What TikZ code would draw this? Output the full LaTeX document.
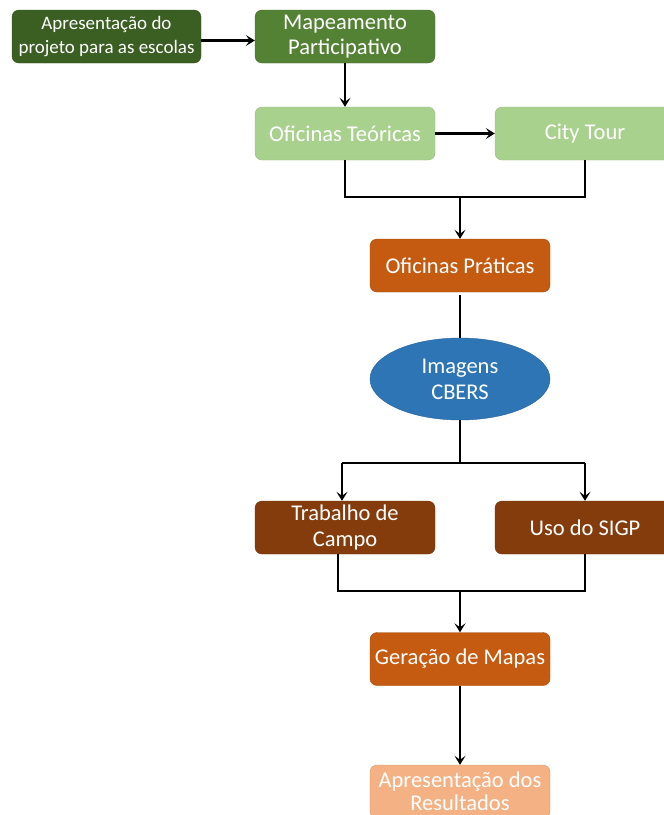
\documentclass[tikz,border=0pt]{standalone}
\usepackage{fontspec}
\setmainfont{Carlito}
\usetikzlibrary{arrows.meta,shapes.geometric}
\definecolor{cA}{HTML}{3B5E22}
\definecolor{cB}{HTML}{548235}
\definecolor{cC}{HTML}{A9D18E}
\definecolor{cD}{HTML}{C55A11}
\definecolor{cE}{HTML}{2E75B6}
\definecolor{cF}{HTML}{843C0C}
\definecolor{cG}{HTML}{F4B183}
\tikzset{
  box/.style={rectangle, rounded corners=7pt, minimum width=180pt, minimum height=53pt,
    inner sep=1pt, align=center, text=white, font=\fontsize{22.5}{25.5}\selectfont, line width=0.4pt},
  conn/.style={line width=2.5pt, black},
  arr/.style={conn, -{Stealth[length=9pt,width=11pt,inset=4pt]}},
}
\begin{document}
\begin{tikzpicture}[x=1pt,y=-1pt]
\useasboundingbox[fill=white] (0,0) rectangle (664,815);
\node[box, fill=cA, draw=cA!85!black, minimum width=189pt, font=\fontsize{19}{24}\selectfont] (b1) at (106.5,36.5) {Apresentação do\\projeto para as escolas};
\node[box, fill=cB, draw=cB!85!black] (b2) at (345,36.5) {Mapeamento\\Participativo};
\node[box, fill=cC, draw=cC!90!black] (b3) at (345,133.5) {Oficinas Teóricas};
\node[box, fill=cC, draw=cC!90!black] (b4) at (585,133.5) {City Tour};
\node[box, fill=cD, draw=cD!85!black] (b5) at (460,265.5) {Oficinas Práticas};
\node[ellipse, fill=cE, draw=cE!85!black, minimum width=180pt, minimum height=82pt, inner sep=0pt,
  align=center, text=white, font=\fontsize{22.5}{26}\selectfont, line width=0.4pt] (el) at (460,379) {Imagens\\CBERS};
\node[box, fill=cF, draw=cF!85!black] (b6) at (345,527.5) {Trabalho de\\Campo};
\node[box, fill=cF, draw=cF!85!black] (b7) at (585,527.5) {Uso do SIGP};
\node[box, fill=cD, draw=cD!85!black] (b8) at (460,659) {Geração de Mapas};
\node[box, fill=cG, draw=cG!85!black, font=\fontsize{22.5}{23.5}\selectfont] (b9) at (460,791.5) {Apresentação dos\\Resultados};

\coordinate (j1) at (460,197);
\coordinate (j2) at (460,463);
\coordinate (j3) at (460,591);

\draw[arr] ([yshift=-4pt]b1.east) -- ([yshift=-4pt]b2.west);
\draw[arr] (b2.south) -- (b3.north);
\draw[arr] (b3.east) -- (b4.west);
\draw[conn] (b3.south) -- (b3.south |- j1) -- (b4.south |- j1) -- (b4.south);
\draw[arr] (j1) -- (b5.north);
\draw[conn, shorten <=3pt] (b5.south) -- (el.north);
\draw[conn] (el.south) -- (j2);
\draw[conn] ([xshift=-3pt]b6.north |- j2) -- (b7.north |- j2);
\draw[arr] ([xshift=-3pt]b6.north |- j2) -- ([xshift=-3pt]b6.north);
\draw[arr] (b7.north |- j2) -- (b7.north);
\draw[conn] ([xshift=-7pt]b6.south) -- ([xshift=-7pt]b6.south |- j3) -- (b7.south |- j3) -- (b7.south);
\draw[arr] (j3) -- (b8.north);
\draw[arr] (b8.south) -- (b9.north);
\end{tikzpicture}
\end{document}
